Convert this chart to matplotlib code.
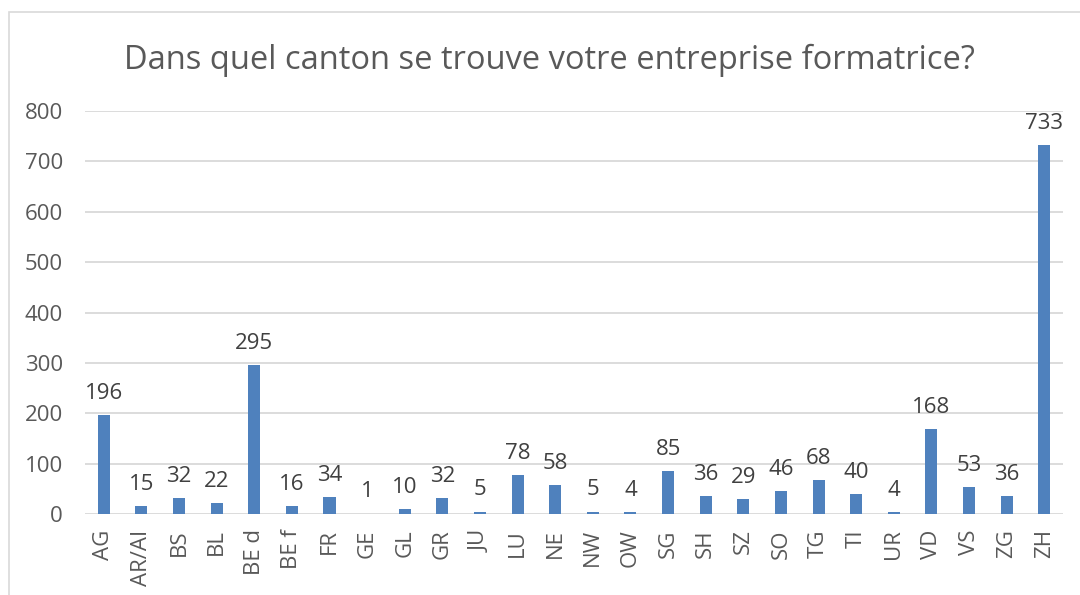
# -*- coding: utf-8 -*-
"""
Bar chart of the training company canton (survey answers).
"""

import numpy as np
import matplotlib
matplotlib.use('Agg')
import matplotlib.pyplot as plt
from matplotlib.patches import Rectangle

# Categories and counts
can_tons = ['AG', 'AR/AI', 'BS', 'BL', 'BE d', 'BE f', 'FR', 'GE', 'GL', 'GR',
            'JU', 'LU', 'NE', 'NW', 'OW', 'SG', 'SH', 'SZ', 'SO', 'TG',
            'TI', 'UR', 'VD', 'VS', 'ZG', 'ZH']
coun_ts = [196, 15, 32, 22, 295, 16, 34, 1, 10, 32,
           5, 78, 58, 5, 4, 85, 36, 29, 46, 68,
           40, 4, 168, 53, 36, 733]
y_ticks = [0, 100, 200, 300, 400, 500, 600, 700, 800]
tit_le = 'Dans quel canton se trouve votre entreprise formatrice?'

plt.rcParams['font.family'] = ['Open Sans', 'DejaVu Sans']

# Create figure and axes placed like the Excel plot area
fig_ure = plt.figure(figsize=(10.8, 5.95), dpi=100)
ax1 = fig_ure.add_axes([0.0787, 0.1361, 0.9056, 0.6773])

# Chart border
fig_ure.patches.append(Rectangle((9 / 1080, -0.1), 1.2, 1.1 - 12 / 595,
                                 transform=fig_ure.transFigure,
                                 fill=False, edgecolor='#d9d9d9', linewidth=1.2))

# Plot bars
x_val = np.arange(len(can_tons))
ax1.bar(x_val, coun_ts, width=0.32, color='#4f81bd', zorder=3)

# Data labels
for x, v in zip(x_val, coun_ts):
    ax1.annotate(str(v), (x, v), xytext=(0, 8), textcoords='offset points',
                 ha='center', va='bottom', size=16, color='#404040')

# Axes styling
ax1.set_xlim(-0.5, len(can_tons) - 0.5)
ax1.set_ylim(0, 800)
ax1.set_yticks(y_ticks)
ax1.set_xticks(x_val)
ax1.set_xticklabels(can_tons, rotation=90)
ax1.tick_params(axis='both', length=0, labelsize=16, colors='#595959')
ax1.tick_params(axis='x', pad=11)
ax1.tick_params(axis='y', pad=16)
ax1.grid(axis='y', color='#d9d9d9', linewidth=1.3, zorder=0)
for s in ax1.spines.values():
    s.set_visible(False)

# Title
fig_ure.text(0.509, 0.899, tit_le, ha='center', va='center', size=23.5,
             color='#595959')

fig_ure.savefig('out.png', dpi=100)
